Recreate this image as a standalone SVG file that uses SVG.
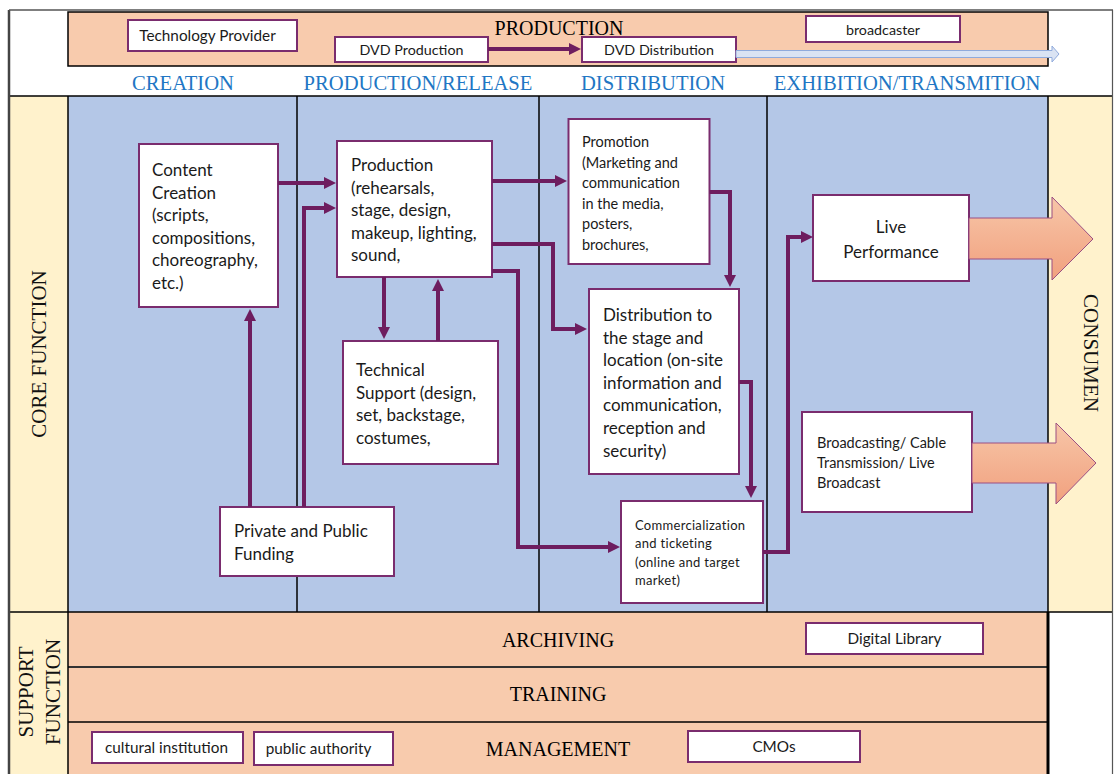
<svg xmlns="http://www.w3.org/2000/svg" width="1114" height="774" viewBox="0 0 1114 774">
<style>
.hdr{font-family:"Liberation Serif","Times New Roman",serif;font-size:20px;fill:#000;text-anchor:middle}
.col{font-family:"Liberation Serif","Times New Roman",serif;font-size:20.6px;fill:#2176C4;text-anchor:middle}
.side{font-family:"Liberation Serif","Times New Roman",serif;font-size:21px;fill:#111;text-anchor:middle}
.box{fill:#fff;stroke:#7A2C6E;stroke-width:2}
.t16{font-family:Lato,"Liberation Sans",sans-serif;font-size:17px;fill:#1a1a1a}
.t14{font-family:Lato,"Liberation Sans",sans-serif;font-size:14.5px;fill:#1a1a1a}
.t13{font-family:Lato,"Liberation Sans",sans-serif;font-size:13px;fill:#1a1a1a;letter-spacing:0.3px}
.tb{font-family:Lato,"Liberation Sans",sans-serif;font-size:14.3px;fill:#1a1a1a;text-anchor:middle}
.tl{font-family:Lato,"Liberation Sans",sans-serif;font-size:15.3px;fill:#1a1a1a;text-anchor:middle}
.conn{fill:none;stroke:#6E1D5F;stroke-width:4;marker-end:url(#ah)}
.line{stroke:#000;stroke-width:1.5;fill:none}
.big{fill:url(#sal);stroke:#9B4F83;stroke-width:1}
</style>
<defs>
<marker id="ah" markerUnits="userSpaceOnUse" markerWidth="12" markerHeight="12" refX="4" refY="6" orient="auto">
<path d="M0,0 L12,6 L0,12 z" fill="#6E1D5F"/>
</marker>
<linearGradient id="sal" x1="0" y1="0" x2="0" y2="1">
<stop offset="0" stop-color="#F7C6A8"/>
<stop offset="1" stop-color="#F1A07E"/>
</linearGradient>
</defs>

<!-- background -->
<rect x="0" y="0" width="1114" height="774" fill="#fff"/>

<!-- top production band -->
<g id="production-band">
<rect x="68" y="12" width="980" height="54" fill="#F8CBAD" stroke="#000" stroke-width="1.5"/>
<text class="hdr" x="559" y="35">PRODUCTION</text>
</g>

<!-- column headers -->
<g id="column-headers">
<text class="col" x="183" y="90">CREATION</text>
<text class="col" x="418" y="90">PRODUCTION/RELEASE</text>
<text class="col" x="653" y="90">DISTRIBUTION</text>
<text class="col" x="907" y="90">EXHIBITION/TRANSMITION</text>
</g>

<!-- core area -->
<g id="core-area">
<rect x="10" y="96" width="58" height="516" fill="#FFF2CC"/>
<rect x="68" y="96" width="980" height="516" fill="#B4C7E7"/>
<rect x="1048" y="96" width="65" height="516" fill="#FFF2CC"/>
<line class="line" x1="297" y1="96" x2="297" y2="612"/>
<line class="line" x1="539" y1="96" x2="539" y2="612"/>
<line class="line" x1="767" y1="96" x2="767" y2="612"/>
<text class="side" transform="translate(0,354) rotate(-90)" x="0" y="46">CORE FUNCTION</text>
<text class="side" transform="translate(1084,353) rotate(90)" x="0" y="0" font-size="21.5">CONSUMEN</text>
</g>

<!-- support area -->
<g id="support-area">
<rect x="10" y="612" width="58" height="162" fill="#FFF2CC"/>
<rect x="68" y="612" width="980" height="55" fill="#F8CBAD"/>
<rect x="68" y="667" width="980" height="55" fill="#F8CBAD"/>
<rect x="68" y="722" width="980" height="52" fill="#F8CBAD"/>
<line x1="68" y1="667" x2="1048" y2="667" stroke="#333" stroke-width="2.2"/>
<line class="line" x1="68" y1="722" x2="1048" y2="722"/>
<text class="hdr" x="558" y="647">ARCHIVING</text>
<text class="hdr" x="558" y="701">TRAINING</text>
<text class="hdr" x="558" y="756">MANAGEMENT</text>
<text class="side" transform="translate(0,692) rotate(-90)"><tspan x="0" y="33">SUPPORT</tspan><tspan x="0" y="60">FUNCTION</tspan></text>
</g>

<!-- grid lines -->
<g id="grid">
<line class="line" x1="10" y1="96" x2="1113" y2="96"/>
<line class="line" x1="10" y1="612" x2="1113" y2="612"/>
<line class="line" x1="68" y1="96" x2="68" y2="774"/>
<line x1="1048" y1="96" x2="1048" y2="612" stroke="#000" stroke-width="1.5"/>
<line x1="1048" y1="612" x2="1048" y2="774" stroke="#000" stroke-width="3"/>
<line x1="9" y1="10" x2="9" y2="774" stroke="#444" stroke-width="2.5"/>
<line x1="9" y1="10" x2="1113" y2="10" stroke="#555" stroke-width="1.5"/>
<line x1="1112.5" y1="10" x2="1112.5" y2="774" stroke="#555" stroke-width="1.2"/>
</g>

<!-- top band boxes -->
<g id="technology-provider">
<rect class="box" x="128" y="20" width="169" height="31"/>
<text class="tl" x="207.5" y="41">Technology Provider</text>
</g>
<g id="dvd-production">
<rect class="box" x="335" y="37" width="153" height="25"/>
<text class="tb" x="411.5" y="55">DVD Production</text>
</g>
<g id="dvd-distribution">
<rect class="box" x="582" y="37" width="154" height="25"/>
<text class="tb" x="659" y="55">DVD Distribution</text>
</g>
<g id="broadcaster">
<rect class="box" x="806" y="16" width="154" height="26"/>
<text class="tb" x="883" y="35">broadcaster</text>
</g>

<!-- core nodes -->
<g id="content-creation">
<rect class="box" x="139" y="144" width="139" height="163"/>
<text class="t16"><tspan x="152" y="176">Content</tspan><tspan x="152" y="198.5">Creation</tspan><tspan x="152" y="221">(scripts,</tspan><tspan x="152" y="243.5">compositions,</tspan><tspan x="152" y="266">choreography,</tspan><tspan x="152" y="289">etc.)</tspan></text>
</g>
<g id="production">
<rect class="box" x="337" y="141" width="155" height="136"/>
<text class="t16"><tspan x="351" y="171">Production</tspan><tspan x="351" y="193.5">(rehearsals,</tspan><tspan x="351" y="216">stage, design,</tspan><tspan x="351" y="238.5">makeup, lighting,</tspan><tspan x="351" y="261">sound,</tspan></text>
</g>
<g id="technical-support">
<rect class="box" x="343" y="341" width="155" height="123"/>
<text class="t16"><tspan x="356" y="376">Technical</tspan><tspan x="356" y="398.5">Support (design,</tspan><tspan x="356" y="421">set, backstage,</tspan><tspan x="356" y="443.5">costumes,</tspan></text>
</g>
<g id="funding">
<rect class="box" x="220" y="507" width="174" height="69"/>
<text class="t16"><tspan x="234" y="537">Private and Public</tspan><tspan x="234" y="560">Funding</tspan></text>
</g>
<g id="promotion">
<rect class="box" x="568.5" y="119" width="141" height="145"/>
<text class="t14"><tspan x="582" y="147">Promotion</tspan><tspan x="582" y="167.5">(Marketing and</tspan><tspan x="582" y="188">communication</tspan><tspan x="582" y="208.5">in the media,</tspan><tspan x="582" y="229">posters,</tspan><tspan x="582" y="249.5">brochures,</tspan></text>
</g>
<g id="distribution">
<rect class="box" x="589" y="289" width="150" height="185"/>
<text class="t16"><tspan x="603" y="321">Distribution to</tspan><tspan x="603" y="343.6">the stage and</tspan><tspan x="603" y="366.2">location (on-site</tspan><tspan x="603" y="388.8">information and</tspan><tspan x="603" y="411.4">communication,</tspan><tspan x="603" y="434">reception and</tspan><tspan x="603" y="456.6">security)</tspan></text>
</g>
<g id="commercialization">
<rect class="box" x="621" y="501" width="142" height="102"/>
<text class="t13"><tspan x="635" y="530">Commercialization</tspan><tspan x="635" y="548">and ticketing</tspan><tspan x="635" y="566.5">(online and target</tspan><tspan x="635" y="584.5">market)</tspan></text>
</g>
<g id="live-performance">
<rect class="box" x="813" y="195" width="156" height="86"/>
<text class="t16" text-anchor="middle"><tspan x="891" y="233">Live</tspan><tspan x="891" y="258">Performance</tspan></text>
</g>
<g id="broadcasting">
<rect class="box" x="802" y="412" width="170" height="100"/>
<text class="t14"><tspan x="817" y="448">Broadcasting/ Cable</tspan><tspan x="817" y="468">Transmission/ Live</tspan><tspan x="817" y="488">Broadcast</tspan></text>
</g>

<!-- connectors -->
<g id="connectors">
<path class="conn" d="M488,49 H573"/>
<path d="M736,50.5 H1052 V46 L1059,54 L1052,62 V57.5 H736 Z" fill="#DAE3F3" stroke="#8FAADC" stroke-width="1"/>
<path class="conn" d="M278,183 H328"/>
<path class="conn" d="M304,507 V208 H328"/>
<path class="conn" d="M250,507 V317"/>
<path class="conn" d="M384,277 V331"/>
<path class="conn" d="M438,341 V287"/>
<path class="conn" d="M492,181 H559"/>
<path class="conn" d="M492,244 H553 V329 H579"/>
<path class="conn" d="M492,271 H518 V547 H612"/>
<path class="conn" d="M709.5,192 H730 V279"/>
<path class="conn" d="M739,382 H751 V490"/>
<path class="conn" d="M763,552 H788 V237 H805"/>
<path class="big" d="M969,218 H1052 V197 L1093,239 L1052,280 V259 H969 Z"/>
<path class="big" d="M972,443 H1056 V423 L1096,463 L1056,504 V483 H972 Z"/>
</g>

<!-- support boxes -->
<g id="digital-library">
<rect class="box" x="806" y="623" width="177" height="31"/>
<text class="tl" x="894.5" y="644">Digital Library</text>
</g>
<g id="cultural-institution">
<rect class="box" x="92" y="732" width="151" height="31"/>
<text class="tl" x="166.5" y="753">cultural institution</text>
</g>
<g id="public-authority">
<rect class="box" x="254" y="732" width="139" height="33"/>
<text class="tl" x="318.5" y="754">public authority</text>
</g>
<g id="cmos">
<rect class="box" x="688" y="731" width="172" height="31"/>
<text class="tl" x="774" y="752">CMOs</text>
</g>
</svg>
